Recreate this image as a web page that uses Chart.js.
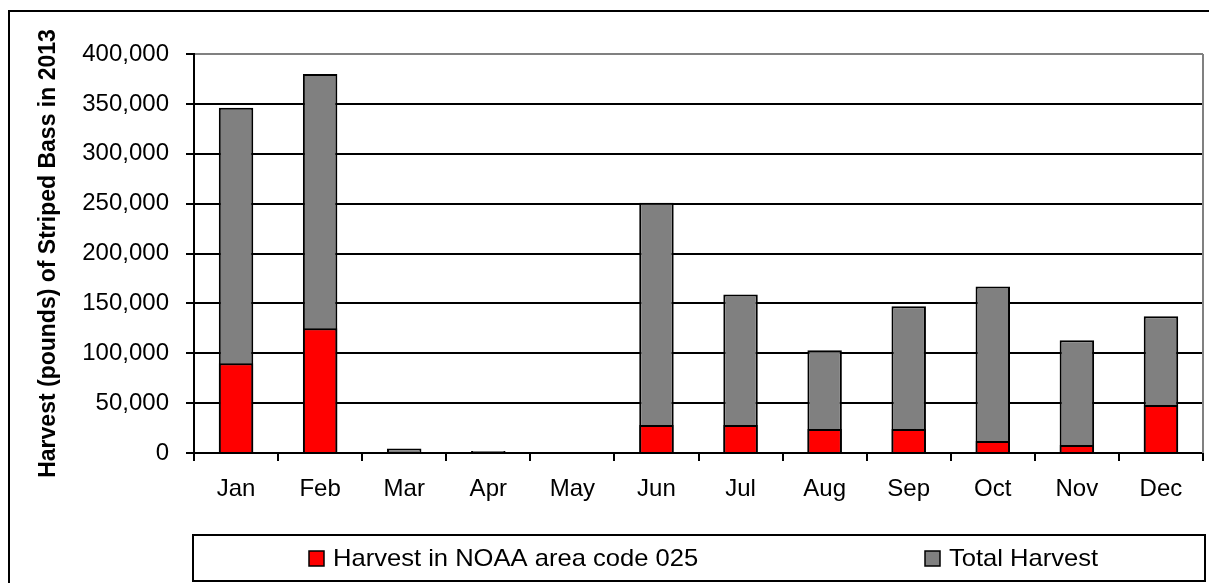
<!DOCTYPE html>
<html>
<head>
<meta charset="utf-8">
<script src="https://cdn.jsdelivr.net/npm/chart.js"></script>
<style>
  html, body { margin: 0; padding: 0; background: #fff; }
  #wrap { width: 1209px; height: 583px; }
</style>
</head>
<body>
<div id="wrap"><canvas id="harvestChart" width="1209" height="583"></canvas></div>
<script>
// Striped bass harvest 2013, pounds per month
const months = ['Jan', 'Feb', 'Mar', 'Apr', 'May', 'Jun', 'Jul', 'Aug', 'Sep', 'Oct', 'Nov', 'Dec'];
const area025 = [90000, 125000, null, null, null, 28000, 28000, 24000, 24000, 12000, 8000, 48000];
const totalHarvest = [346000, 380000, 4500, 2000, 0, 251000, 159000, 103000, 147000, 167000, 113000, 137000];
const yTicks = [0, 50000, 100000, 150000, 200000, 250000, 300000, 350000, 400000];

const FONT = '"Liberation Sans", Arial, sans-serif';
Chart.defaults.font.family = FONT;
Chart.defaults.color = '#000';

// white background, outer frame, grey plot border, boxed legend
const framePlugin = {
  id: 'frame',
  beforeDraw(chart) {
    const c = chart.ctx;
    c.save();
    c.fillStyle = '#fff';
    c.fillRect(0, 0, chart.width, chart.height);
    c.strokeStyle = '#000';
    c.lineWidth = 2;
    c.strokeRect(9, 11, chart.width + 20, chart.height + 20);
    c.restore();
  },
  afterDraw(chart) {
    const c = chart.ctx;
    const a = chart.chartArea;
    c.save();
    c.strokeStyle = '#808080';
    c.lineWidth = 2;
    c.beginPath();
    c.moveTo(a.right, a.top);
    c.lineTo(a.right, a.bottom);
    c.stroke();

    // legend box
    c.strokeStyle = '#000';
    c.lineWidth = 2;
    c.strokeRect(193, 535, 1012, 46);
    const items = [
      { ds: chart.data.datasets[0], x: 309 },
      { ds: chart.data.datasets[1], x: 925 }
    ];
    c.font = '24px ' + FONT;
    c.textBaseline = 'middle';
    c.textAlign = 'left';
    items.forEach(it => {
      c.fillStyle = it.ds.backgroundColor;
      c.fillRect(it.x, 551, 15, 15);
      c.lineWidth = 1.5;
      c.strokeStyle = '#000';
      c.strokeRect(it.x, 551, 15, 15);
      c.fillStyle = '#000';
      c.save();
      c.translate(it.x + 24, 559);
      c.scale(1.065, 1); // legend text in the original is a bit wide
      c.fillText(it.ds.label, 0, 0);
      c.restore();
    });
    c.restore();
  }
};

new Chart(document.getElementById('harvestChart'), {
  type: 'bar',
  data: {
    labels: months,
    datasets: [
      {
        label: 'Harvest in NOAA area code 025',
        data: area025,
        backgroundColor: '#ff0000',
        borderColor: '#000',
        borderWidth: 2,
        borderSkipped: 'start',
        grouped: false,
        order: 0
      },
      {
        label: 'Total Harvest',
        data: totalHarvest,
        backgroundColor: '#808080',
        borderColor: '#000',
        borderWidth: 2,
        borderSkipped: 'start',
        grouped: false,
        order: 1
      }
    ]
  },
  options: {
    responsive: false,
    animation: false,
    barPercentage: 0.41,
    categoryPercentage: 1,
    layout: { padding: { left: 10, top: 54, right: 6, bottom: 60 } },
    plugins: {
      legend: { display: false },
      tooltip: { enabled: false }
    },
    scales: {
      x: {
        afterFit(scale) { scale.height = 70; },
        grid: {
          offset: true,
          drawOnChartArea: false,
          drawTicks: true,
          tickLength: 8,
          color: '#000',
          lineWidth: 2
        },
        border: { color: '#000', width: 2 },
        ticks: { font: { size: 24 }, padding: 14, maxRotation: 0 }
      },
      y: {
        min: 0,
        max: 400000,
        afterFit(scale) { scale.width = 184; },
        afterBuildTicks(scale) { scale.ticks = yTicks.map(v => ({ value: v })); },
        grid: {
          color: ctx => (ctx.tick && ctx.tick.value === 400000 ? '#808080' : '#000'),
          lineWidth: 2,
          drawTicks: true,
          tickLength: 8,
          tickColor: '#000'
        },
        border: { color: '#000', width: 2 },
        ticks: {
          font: { size: 24 },
          padding: 17,
          callback: v => v.toLocaleString('en-US')
        },
        title: {
          display: true,
          text: 'Harvest (pounds) of Striped Bass in 2013',
          font: { size: 23, weight: 'bold' },
          padding: { top: 25, bottom: 0 }
        }
      }
    }
  },
  plugins: [framePlugin]
});
</script>
</body>
</html>
